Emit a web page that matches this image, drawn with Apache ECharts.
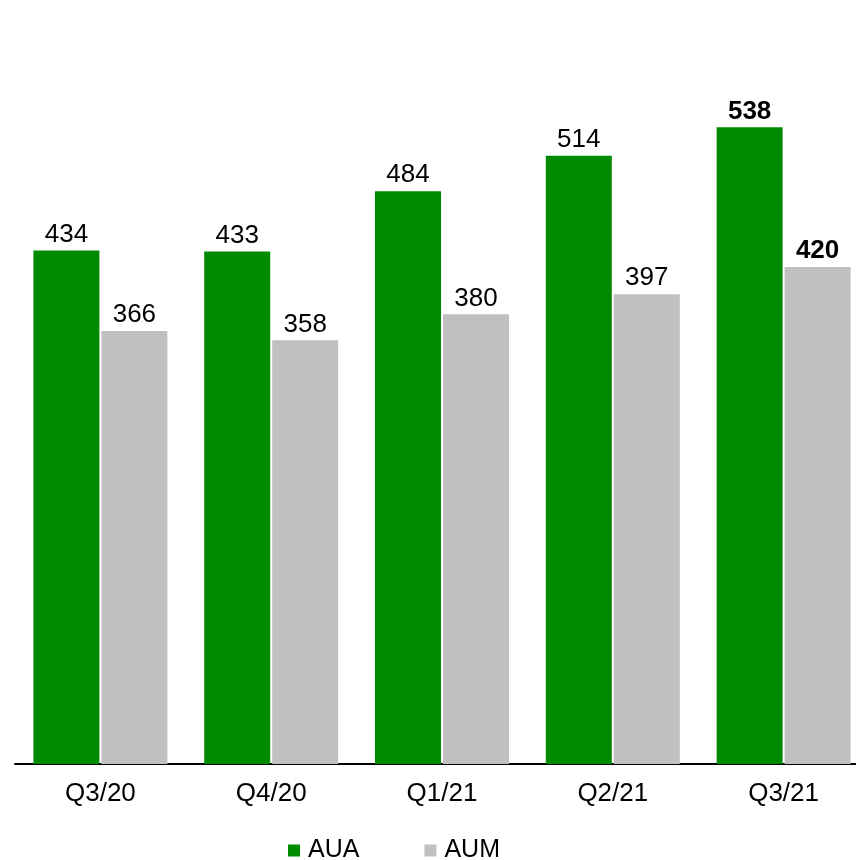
<!DOCTYPE html>
<html><head><meta charset="utf-8">
<script src="https://cdn.jsdelivr.net/npm/echarts@6/dist/echarts.min.js"></script>
<style>html,body{margin:0;padding:0;background:#fff;overflow:hidden}#c{width:870px;height:860px}</style>
</head><body><div id="c"></div>
<script>
const categories = ['Q3/20', 'Q4/20', 'Q1/21', 'Q2/21', 'Q3/21'];
const aua = [434, 433, 484, 514, 538];
const aum = [366, 358, 380, 397, 420];
const boldIndex = 4;

const FONT = '"Liberation Sans", Arial, sans-serif';
function mk(vals) {
  return vals.map((v, i) => i === boldIndex
    ? { value: v, label: { fontWeight: 'bold' } }
    : v);
}
const chart = echarts.init(document.getElementById('c'), null, { renderer: 'canvas' });
chart.setOption({
  animation: false,
  backgroundColor: '#ffffff',
  grid: { left: 15, right: 1, top: 54, bottom: 96, containLabel: false },
  legend: {
    data: ['AUA', 'AUM'],
    left: 283, top: 833,
    icon: 'rect', itemWidth: 12, itemHeight: 12, itemGap: 65,
    textStyle: { fontFamily: FONT, fontSize: 25, color: '#000', padding: [0, 0, 0, 3] }
  },
  xAxis: {
    type: 'category', data: categories,
    axisLine: { lineStyle: { color: '#000', width: 2 } },
    axisTick: { show: false },
    axisLabel: { fontFamily: FONT, fontSize: 26, color: '#000', margin: 17 }
  },
  yAxis: { type: 'value', min: 0, max: 600, show: false, splitLine: { show: false } },
  series: [
    { name: 'AUA', type: 'bar', data: mk(aua), barWidth: 66, barGap: '3%',
      itemStyle: { color: '#008A00' },
      label: { show: true, position: 'top', distance: 3, fontFamily: FONT, fontSize: 26, color: '#000' } },
    { name: 'AUM', type: 'bar', data: mk(aum), barWidth: 66,
      itemStyle: { color: '#C0C0C0' },
      label: { show: true, position: 'top', distance: 3, fontFamily: FONT, fontSize: 26, color: '#000' } }
  ]
});
</script></body></html>
